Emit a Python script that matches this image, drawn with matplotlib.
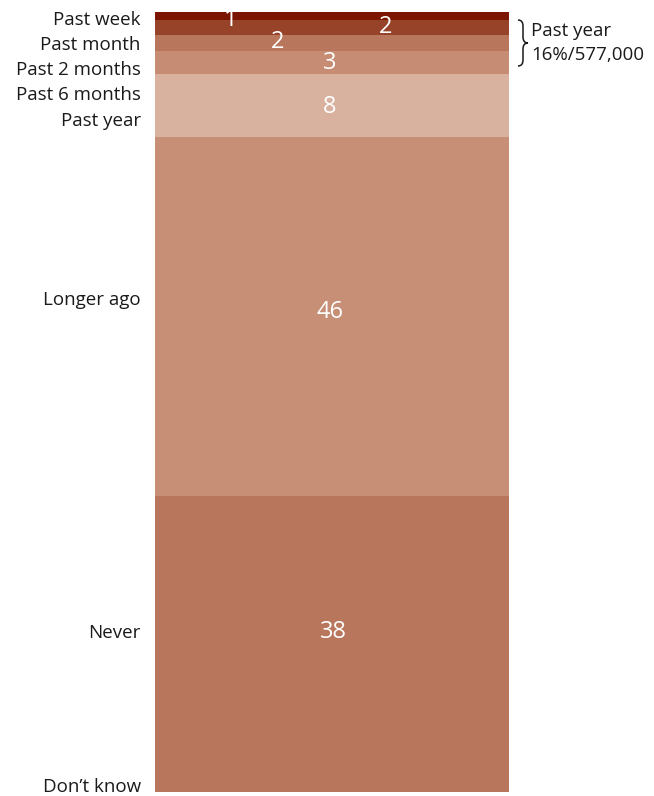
import matplotlib
matplotlib.use("Agg")
import matplotlib.pyplot as plt
from matplotlib.path import Path
from matplotlib.patches import PathPatch

plt.rcParams["font.family"] = ["Open Sans", "DejaVu Sans"]

# share of respondents, top of the bar first
categories = ["Past week", "Past month", "Past 2 months", "Past 6 months",
              "Past year", "Longer ago", "Never", "Don\u2019t know"]
values = [1, 2, 2, 3, 8, 46, 38, 0]
value_text = ["1", "2", "2", "3", "8", "46", "38"]
colors = ["#7b1500", "#96432a", "#b8775c", "#c68c74",
          "#d9b29f", "#c78f76", "#b8775c", "#b8775c"]

# label placement (axis units from the top, and x as fraction of the bar)
label_y = [1.0, 4.2, 7.4, 10.7, 14.0, 36.9, 79.6, 99.4]
value_pos = [(0.215, 1.0), (0.65, 1.9), (0.345, 3.8), (0.494, 6.6),
             (0.494, 12.2), (0.494, 38.5), (0.503, 79.5)]

W, H = 654, 796
fig = plt.figure(figsize=(W / 100, H / 100), dpi=100)
ax = fig.add_axes([155 / W, 1 - 792 / H, (509 - 155) / W, (792 - 12) / H])

bottom = 0
for cat, v, c in zip(categories, values, colors):
    ax.bar(0.5, v, width=1.0, bottom=bottom, color=c, linewidth=0)
    bottom += v

ax.set_xlim(0, 1)
ax.set_ylim(100, 0)
ax.axis("off")

for cat, y in zip(categories, label_y):
    ax.text(-0.04, y, cat, ha="right", va="center", fontsize=13.5,
            color="#1a1a1a", transform=ax.get_yaxis_transform())

# value labels; the 2s are staggered across the thin bands
for txt, (xf, y) in zip(value_text, value_pos):
    ax.text(xf, y, txt, ha="center", va="center", fontsize=17,
            color="white", transform=ax.get_yaxis_transform())


# curly brace grouping the past-year bands
def fx(x):
    return x / W


def fy(y):
    return 1 - y / H


pts = [(518, 20), (523, 20), (523, 26), (523, 37), (523, 43), (528, 43),
       (523, 43), (523, 49), (523, 60), (523, 66), (518, 66)]
codes = [Path.MOVETO, Path.CURVE3, Path.CURVE3, Path.LINETO, Path.CURVE3,
         Path.CURVE3, Path.CURVE3, Path.CURVE3, Path.LINETO, Path.CURVE3,
         Path.CURVE3]
brace = Path([(fx(x), fy(y)) for x, y in pts], codes)
fig.add_artist(PathPatch(brace, fill=False, lw=1.1, ec="#1a1a1a",
                         transform=fig.transFigure))

fig.text(531 / W, fy(31), "Past year", ha="left", va="center",
         fontsize=13.5, color="#1a1a1a")
fig.text(531 / W, fy(55), "16%/577,000", ha="left", va="center",
         fontsize=13.5, color="#1a1a1a")

fig.savefig("out.png", dpi=100)
